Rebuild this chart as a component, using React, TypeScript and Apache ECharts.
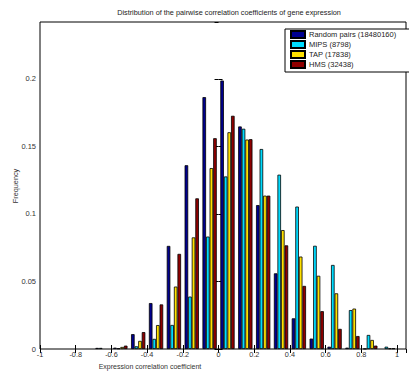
import React, { useEffect, useRef } from "react";
import * as echarts from "echarts";

const binCenters = [-0.95, -0.85, -0.75, -0.65, -0.55, -0.45, -0.35, -0.25, -0.15, -0.05, 0.05, 0.15, 0.25, 0.35, 0.45, 0.55, 0.65, 0.75, 0.85, 0.95];
const randomPairs = [0, 0, 0, 0.0008, 0.001, 0.011, 0.034, 0.0763, 0.136, 0.1864, 0.1987, 0.1647, 0.1065, 0.056, 0.0227, 0.0077, 0.0017, 0.001, 0.0002, 0];
const mips = [0, 0, 0, 0.0008, 0.0005, 0.002, 0.0075, 0.0178, 0.0388, 0.0832, 0.1277, 0.163, 0.148, 0.129, 0.1054, 0.0764, 0.0622, 0.0288, 0.0104, 0.0017];
const tap = [0, 0, 0, 0, 0.0015, 0.006, 0.0177, 0.0462, 0.0826, 0.1339, 0.1604, 0.155, 0.1135, 0.088, 0.0684, 0.0542, 0.0412, 0.0299, 0.0067, 0.0005];
const hms = [0, 0, 0, 0, 0.0025, 0.0125, 0.033, 0.0704, 0.1115, 0.156, 0.1726, 0.1553, 0.1135, 0.0767, 0.0467, 0.028, 0.0149, 0.0096, 0.0025, 0.0005];
const seriesNames = ["Random pairs (18480160)", "MIPS (8798)", "TAP (17838)", "HMS (32438)"];
const seriesColors = ["#00008f", "#00dcff", "#ffe000", "#8f0000"];

const FONT = "Liberation Sans, Arial, Helvetica, sans-serif";

export default function App() {
  const ref = useRef<HTMLDivElement>(null);
  useEffect(() => {
    if (!ref.current) return;
    const chart = echarts.init(ref.current, null, { renderer: "svg" });
    const values = [randomPairs, mips, tap, hms];
    const fmtX = (v: number) => {
      const r = Math.round(v * 10) / 10;
      if (Math.abs(v - r) > 1e-6 || Math.abs(Math.round(r * 10) % 2) === 1) return "";
      return String(r);
    };
    const fmtY = (v: number) => {
      const r = Math.round(v * 100) / 100;
      if (Math.abs(v - Math.round(v * 20) / 20) > 1e-6) return "";
      return String(r);
    };
    const baseX = {
      type: "value" as const,
      min: -1,
      max: 1.05,
      interval: 0.2,
      axisLine: { show: false },
      splitLine: { show: false },
      axisTick: { show: true, inside: true, length: 4, lineStyle: { color: "#000", width: 1 } },
    };
    const baseY = {
      type: "value" as const,
      min: 0,
      max: 0.242,
      interval: 0.05,
      axisLine: { show: false },
      splitLine: { show: false },
      axisTick: { show: true, inside: true, length: 4, lineStyle: { color: "#000", width: 1 } },
    };
    chart.setOption({
      animation: false,
      grid: { left: 40, top: 22, right: 3, bottom: 26, show: true, borderColor: "#000", borderWidth: 1, backgroundColor: "#fff" },
      legend: {
        orient: "vertical",
        left: 285,
        top: 29,
        padding: [1, 14, 3, 5],
        itemWidth: 14,
        itemHeight: 7,
        itemGap: 1,
        icon: "rect",
        selectedMode: false,
        backgroundColor: "#fff",
        borderColor: "#000",
        borderWidth: 1,
        textStyle: { fontSize: 7.5, color: "#222", fontFamily: FONT, lineHeight: 9, padding: [0, 0, 0, -1] },
        data: seriesNames,
      },
      xAxis: [
        {
          ...baseX,
          position: "bottom",
          axisLabel: { show: true, fontSize: 7.3, color: "#333", fontFamily: FONT, margin: 2, formatter: fmtX, showMaxLabel: false },
        },
        { ...baseX, position: "top", axisLabel: { show: false } },
      ],
      yAxis: [
        {
          ...baseY,
          position: "left",
          axisLabel: { show: true, fontSize: 7.5, color: "#333", fontFamily: FONT, margin: 4, formatter: fmtY, showMaxLabel: false },
        },
        { ...baseY, position: "right", axisLabel: { show: false } },
      ],
      series: values.map((vals, i) => ({
        type: "bar",
        name: seriesNames[i],
        xAxisIndex: 0,
        yAxisIndex: 0,
        barGap: "0%",
        barCategoryGap: "20%",
        itemStyle: { color: seriesColors[i], borderColor: "#000", borderWidth: 0.8 },
        data: binCenters.map((x, j) => [x, vals[j] === 0 ? null : vals[j]]),
      })),
      graphic: [
        {
          type: "text",
          x: 229,
          y: 12,
          style: {
            text: "Distribution of the pairwise correlation coefficients of gene expression",
            textAlign: "center",
            textVerticalAlign: "middle",
            fontSize: 7.3,
            fill: "#222",
            fontFamily: FONT,
          },
        },
        {
          type: "text",
          x: 150,
          y: 366,
          style: {
            text: "Expression correlation coefficient",
            textAlign: "center",
            textVerticalAlign: "middle",
            fontSize: 7,
            fill: "#333",
            fontFamily: FONT,
          },
        },
        {
          type: "text",
          x: 15,
          y: 186,
          rotation: Math.PI / 2,
          style: {
            text: "Frequency",
            textAlign: "center",
            textVerticalAlign: "middle",
            fontSize: 7.3,
            fill: "#333",
            fontFamily: FONT,
          },
        },
      ],
    });
    return () => chart.dispose();
  }, []);
  return <div ref={ref} style={{ position: "fixed", left: 0, top: 0, width: 409, height: 375, background: "#fff" }} />;
}
